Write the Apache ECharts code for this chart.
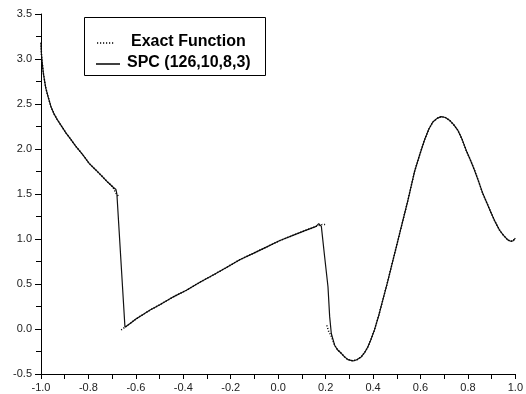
<!DOCTYPE html>
<html>
<head>
<meta charset="utf-8">
<script src="https://cdn.jsdelivr.net/npm/echarts@6/dist/echarts.min.js"></script>
<style>html,body{margin:0;padding:0;background:#fff;}#c{width:526px;height:394px;}</style>
</head>
<body>
<div id="c"></div>
<script>
// x tick labels / y tick labels
var xTicks = [-1.0, -0.8, -0.6, -0.4, -0.2, 0.0, 0.2, 0.4, 0.6, 0.8, 1.0];
var yTicks = [-0.5, 0.0, 0.5, 1.0, 1.5, 2.0, 2.5, 3.0, 3.5];
var legendNames = ['Exact Function', 'SPC (126,10,8,3)'];

// SPC reconstruction
var spcX = [-1.0,-0.998,-0.995,-0.99,-0.98,-0.97,-0.958,-0.945,-0.93,-0.91,-0.895,-0.875,-0.853,-0.825,-0.797,-0.77,-0.74,-0.718,-0.698,-0.69,-0.684,-0.68,
  -0.646,-0.638,-0.62,-0.6,-0.583,-0.54,-0.499,-0.44,-0.387,-0.33,-0.274,-0.22,-0.162,-0.105,-0.05,0.005,0.062,0.11,0.16,0.171,0.182,
  0.196,0.2,0.21,0.217,0.224,0.238,0.25,0.266,0.28,0.294,0.315,0.333,0.35,0.365,0.378,0.392,0.406,0.424,0.441,0.46,0.477,0.495,0.512,
  0.53,0.547,0.561,0.575,0.596,0.617,0.635,0.652,0.67,0.687,0.705,0.722,0.74,0.757,0.775,0.792,0.81,0.827,0.845,0.862,0.88,0.898,
  0.915,0.933,0.95,0.968,0.98,0.99,1.0];
var spcY = [3.18,3.05,2.96,2.84,2.68,2.58,2.47,2.39,2.32,2.24,2.18,2.11,2.03,1.94,1.84,1.77,1.69,1.63,1.58,1.56,1.55,1.50,
  0.02,0.03,0.07,0.11,0.14,0.21,0.27,0.36,0.43,0.52,0.60,0.68,0.77,0.84,0.91,0.98,1.04,1.09,1.14,1.17,1.14,
  0.80,0.78,0.47,0.14,-0.05,-0.18,-0.23,-0.27,-0.31,-0.34,-0.355,-0.34,-0.31,-0.26,-0.20,-0.11,-0.01,0.15,0.32,0.51,0.69,0.88,1.06,
  1.25,1.43,1.59,1.75,1.93,2.10,2.22,2.30,2.34,2.36,2.35,2.32,2.27,2.21,2.11,1.99,1.88,1.77,1.64,1.51,1.40,1.29,
  1.19,1.10,1.04,0.99,0.975,0.98,1.01];

// Exact function (null = discontinuity)
var exactX = [-1.0,-0.998,-0.995,-0.99,-0.98,-0.97,-0.958,-0.945,-0.93,-0.91,-0.895,-0.875,-0.853,-0.825,-0.797,-0.77,-0.74,-0.718,-0.698,-0.684,-0.672,
  -0.667,
  -0.662,-0.646,-0.62,-0.6,-0.583,-0.54,-0.499,-0.44,-0.387,-0.33,-0.274,-0.22,-0.162,-0.105,-0.05,0.005,0.062,0.11,0.16,0.185,0.2,
  0.202,
  0.205,0.212,0.224,0.238,0.25,0.266,0.28,0.294,0.315,0.333,0.35,0.365,0.378,0.392,0.406,0.424,0.441,0.46,0.477,0.495,0.512,
  0.53,0.547,0.561,0.575,0.596,0.617,0.635,0.652,0.67,0.687,0.705,0.722,0.74,0.757,0.775,0.792,0.81,0.827,0.845,0.862,0.88,0.898,
  0.915,0.933,0.95,0.968,0.98,0.99,1.0];
var exactY = [3.18,3.05,2.96,2.84,2.68,2.58,2.47,2.39,2.32,2.24,2.18,2.11,2.03,1.94,1.84,1.77,1.69,1.63,1.58,1.51,1.47,
  null,
  -0.01,0.02,0.07,0.11,0.14,0.21,0.27,0.36,0.43,0.52,0.60,0.68,0.77,0.84,0.91,0.98,1.04,1.09,1.14,1.16,1.16,
  null,
  0.04,-0.02,-0.08,-0.18,-0.23,-0.27,-0.31,-0.34,-0.355,-0.34,-0.31,-0.26,-0.20,-0.11,-0.01,0.15,0.32,0.51,0.69,0.88,1.06,
  1.25,1.43,1.59,1.75,1.93,2.10,2.22,2.30,2.34,2.36,2.35,2.32,2.27,2.21,2.11,1.99,1.88,1.77,1.64,1.51,1.40,1.29,
  1.19,1.10,1.04,0.99,0.975,0.98,1.01];

function pairs(xs, ys) {
  return xs.map(function (x, i) { return [x, ys[i] === null ? '-' : ys[i]]; });
}

var chart = echarts.init(document.getElementById('c'), null, {renderer: 'canvas'});
var axisText = {color: '#222', fontSize: 11, fontFamily: 'Liberation Sans, Arial, sans-serif'};
chart.setOption({
  animation: false,
  backgroundColor: '#fff',
  grid: {left: 41, right: 10, top: 14, bottom: 20},
  xAxis: {
    type: 'value', min: xTicks[0], max: xTicks[xTicks.length - 1], interval: 0.2,
    axisLine: {show: true, onZero: false, lineStyle: {color: '#000', width: 1}},
    axisTick: {show: true, length: 5, lineStyle: {color: '#000'}},
    minorTick: {show: true, splitNumber: 2, length: 5, lineStyle: {color: '#000'}},
    splitLine: {show: false},
    axisLabel: Object.assign({margin: 8, formatter: function (v) { return v.toFixed(1); }}, axisText)
  },
  yAxis: {
    type: 'value', min: yTicks[0], max: yTicks[yTicks.length - 1], interval: 0.5,
    axisLine: {show: true, onZero: false, lineStyle: {color: '#000', width: 1}},
    axisTick: {show: true, length: 6, lineStyle: {color: '#000'}},
    minorTick: {show: true, splitNumber: 2, length: 5, lineStyle: {color: '#000'}},
    splitLine: {show: false},
    axisLabel: Object.assign({margin: 9, formatter: function (v) { return v.toFixed(1); }}, axisText)
  },
  series: [
    {
      name: legendNames[1], type: 'line', showSymbol: false, symbol: 'none',
      data: pairs(spcX, spcY),
      lineStyle: {color: '#111', width: 1.2}
    },
    {
      name: legendNames[0], type: 'line', showSymbol: false, symbol: 'none', connectNulls: false,
      data: pairs(exactX, exactY),
      lineStyle: {color: '#000', width: 1.5, type: [1, 1.8]}
    }
  ],
  graphic: [
    {type: 'rect', shape: {x: 84.5, y: 17.5, width: 181, height: 58}, style: {fill: '#fff', stroke: '#000', lineWidth: 1}, z: 10},
    {type: 'line', shape: {x1: 97, y1: 43, x2: 115, y2: 43}, style: {stroke: '#000', lineWidth: 1.5, lineDash: [1.2, 1.8]}, z: 11},
    {type: 'line', shape: {x1: 96, y1: 64, x2: 120, y2: 64}, style: {stroke: '#000', lineWidth: 1.5}, z: 11},
    {type: 'text', x: 131, y: 42, style: {text: legendNames[0], fill: '#000', font: 'bold 16px "Liberation Sans", Arial, sans-serif', textVerticalAlign: 'middle'}, z: 11},
    {type: 'text', x: 127, y: 63, style: {text: legendNames[1], fill: '#000', font: 'bold 16px "Liberation Sans", Arial, sans-serif', textVerticalAlign: 'middle'}, z: 11}
  ]
});
</script>
</body>
</html>
